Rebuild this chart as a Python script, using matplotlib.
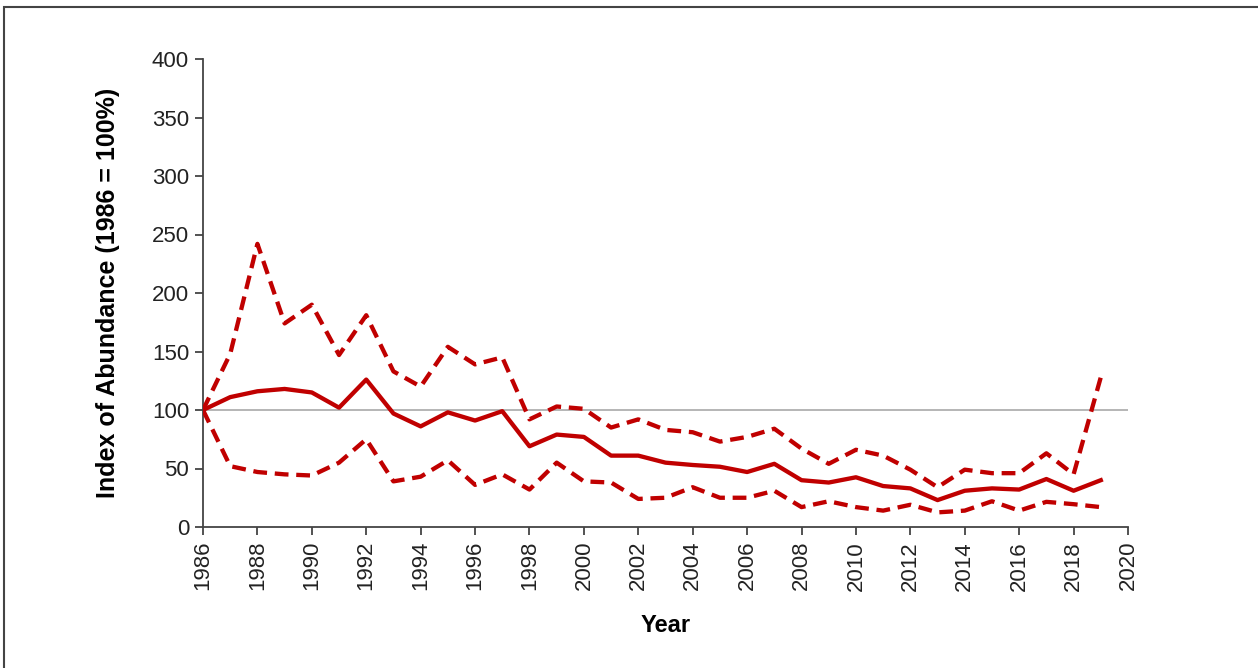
import matplotlib
matplotlib.use("Agg")
import matplotlib.pyplot as plt
from matplotlib.patches import Rectangle

years = list(range(1986, 2020))

index_mean = [100, 111, 116, 118, 115, 102, 126, 97, 86, 98, 91, 99,
              69, 79, 77, 61, 61, 55, 53, 51.5, 47, 54, 40,
              38, 42.5, 35, 33, 23, 31, 33, 32, 41, 31, 40]

upper_ci = [100, 148, 242, 174, 190, 147, 181, 133, 120, 154, 139, 145,
            92, 103, 101, 85, 92, 83, 81, 73, 77, 84, 67,
            54, 66, 61, 49, 34, 49, 46, 46, 63, 45, 128]

lower_ci = [100, 52, 47, 45, 44, 55, 75, 39, 43, 57, 36, 45,
            32, 55, 39, 38, 24, 25, 34, 25, 25, 31, 17,
            22, 17, 14, 19, 12.5, 14, 22, 14, 21.5, 19.5, 17]

x_ticks = list(range(1986, 2021, 2))
y_ticks = list(range(0, 401, 50))

RED = "#c00000"
FONT = "Liberation Sans"
W, H = 1258, 668
fig = plt.figure(figsize=(W / 100, H / 100), dpi=100)
fig.patch.set_facecolor("white")

# page frame along the top and left edges
fig.add_artist(Rectangle((4 / W, -0.1), 1.2, (H - 7) / H + 0.1,
                         transform=fig.transFigure, fill=False,
                         edgecolor="#444444", linewidth=1.5))

ax = fig.add_axes([203 / W, 1 - 527 / H, (1128 - 203) / W, (527 - 59) / H])

ax.axhline(100, color="#b0b0b0", linewidth=1.3, zorder=1)
ax.plot(years, upper_ci, color=RED, linewidth=3.1, dashes=(3.2, 1.8), zorder=3)
ax.plot(years, lower_ci, color=RED, linewidth=3.1, dashes=(3.2, 1.8), zorder=3)
ax.plot(years, index_mean, color=RED, linewidth=3.1, zorder=4)

ax.set_xlim(1986, 2020)
ax.set_ylim(0, 400)
ax.set_xticks(x_ticks)
ax.set_xticklabels([str(t) for t in x_ticks], rotation=90)
ax.set_yticks(y_ticks)

for side in ("top", "right"):
    ax.spines[side].set_visible(False)
for side in ("left", "bottom"):
    ax.spines[side].set_color("#444444")
    ax.spines[side].set_linewidth(1.3)

ax.tick_params(axis="both", direction="out", length=6, width=1.3,
               color="#444444", labelsize=16, labelcolor="#222222",
               pad=4)
for lbl in ax.get_xticklabels() + ax.get_yticklabels():
    lbl.set_fontfamily(FONT)

ax.set_xlabel("Year", fontsize=17, fontweight="bold", family=FONT,
              labelpad=17)
ax.set_ylabel("Index of Abundance (1986 = 100%)", fontsize=18,
              fontweight="bold", family=FONT, labelpad=23)

fig.savefig("out.png", dpi=100)
